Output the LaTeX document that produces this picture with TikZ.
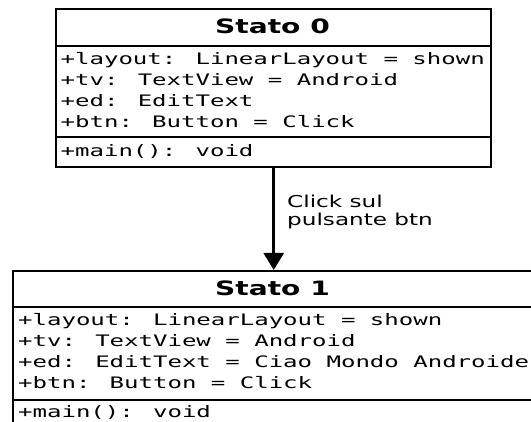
\documentclass[tikz,border=0pt]{standalone}
\usepackage{fontspec}
\usetikzlibrary{arrows.meta}
\newfontfamily\umltitle[FakeStretch=1.42]{DejaVu Sans Bold}
\newfontfamily\umlsans[FakeStretch=1.41]{DejaVu Sans}
\newfontfamily\umlmono[FakeStretch=1.52]{DejaVu Sans Mono}
\tikzset{
  statebox/.style={draw,line width=2.4pt,inner sep=0pt,anchor=north west},
  statesep/.style={line width=2pt},
  statename/.style={font=\umltitle\fontsize{19.8}{22}\selectfont,inner sep=0pt,anchor=base},
  member/.style={font=\umlmono\fontsize{15.8}{21}\selectfont,inner sep=0pt,anchor=base west},
  trigger/.style={font=\umlsans\fontsize{16.4}{18}\selectfont,inner sep=0pt,anchor=north west,align=left},
  flow/.style={line width=2.6pt,-{Triangle[length=17pt,width=20pt]}}
}
\begin{document}
\begin{tikzpicture}[x=1pt,y=-1pt,line cap=butt,line join=miter]
  \useasboundingbox (0,0) rectangle (531,422);
  \clip (0,0) rectangle (531,422);
  % state 0
  \node[statebox,minimum width=435pt,minimum height=158pt] (s0) at (55,8) {};
  \draw[statesep] (s0.west |- 0,46) -- (s0.east |- 0,46);
  \draw[statesep] (s0.west |- 0,137) -- (s0.east |- 0,137);
  \node[statename] (s0name) at (272.5,33.5) {Stato 0};
  \foreach \txt [count=\i] in {+layout: LinearLayout = shown,+tv: TextView = Android,+ed: EditText,+btn: Button = Click}
    \node[member] (s0attr\i) at (60.5,44+21*\i) {\txt};
  \node[member] (s0op) at (60.5,157) {+main(): void};
  % state 1
  \node[statebox,minimum width=521pt,minimum height=162pt] (s1) at (12,270) {};
  \draw[statesep] (s1.west |- 0,307.5) -- (s1.east |- 0,307.5);
  \draw[statesep] (s1.west |- 0,400) -- (s1.east |- 0,400);
  \node[statename] (s1name) at (272.5,295.5) {Stato 1};
  \foreach \txt [count=\i] in {+layout: LinearLayout = shown,+tv: TextView = Android,+ed: EditText = Ciao Mondo Androide,+btn: Button = Click}
    \node[member] (s1attr\i) at (18,305+21*\i) {\txt};
  \node[member] (s1op) at (18,417.5) {+main(): void};
  % transition
  \draw[flow] (s0.south) -- (s1.north);
  \node[trigger] (event) at (287,194.5) {Click sul\\pulsante btn};
\end{tikzpicture}
\end{document}
